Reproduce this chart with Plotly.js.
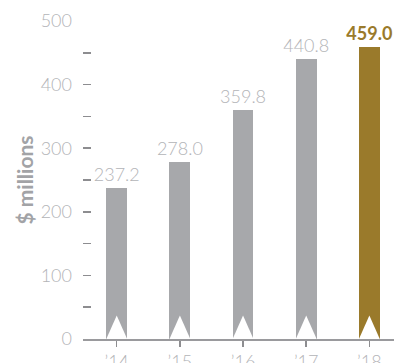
<!DOCTYPE html>
<html>
<head>
<meta charset="utf-8">
<script src="https://cdn.plot.ly/plotly-3.0.1.min.js"></script>
<style>html,body{margin:0;padding:0;background:#fff;}#chart{width:394px;height:363px;}</style>
</head>
<body>
<div id="chart"></div>
<script>
const categories = ["\u201914", "\u201915", "\u201916", "\u201917", "\u201918"];
const values = [237.2, 278.0, 359.8, 440.8, 459.0];
const valueLabels = ["237.2", "278.0", "359.8", "440.8", "459.0"];
const yTickVals = [0, 50, 100, 150, 200, 250, 300, 350, 400, 450, 500];
const yTickText = ["0", "", "100", "", "200", "", "300", "", "400", "", "500"];

const GRAY = "#a7a8ab";
const GOLD = "#9a7a2b";
const LABEL = "#b3b4b7";
const barWidth = 0.33;
const notchHeight = 37;

const colors = values.map((v, i) => i === values.length - 1 ? GOLD : GRAY);
const textColors = values.map((v, i) => i === values.length - 1 ? GOLD : LABEL);
const textWeights = values.map((v, i) => i === values.length - 1 ? 700 : 300);

const xIdx = categories.map((c, i) => i);

const bars = {
  type: "bar",
  x: xIdx,
  y: values,
  width: barWidth,
  marker: {color: colors, line: {width: 0}},
  text: valueLabels,
  textposition: "outside",
  constraintext: "none",
  textfont: {color: textColors, size: 18, family: "Lato, sans-serif", weight: textWeights},
  cliponaxis: false,
  hoverinfo: "skip"
};

const shapes = xIdx.map(i => ({
  type: "path",
  xref: "x", yref: "y",
  path: `M ${i - barWidth / 2} 0 L ${i} ${notchHeight} L ${i + barWidth / 2} 0 Z`,
  fillcolor: "#ffffff",
  line: {width: 0},
  layer: "above"
}));

const layout = {
  width: 394, height: 363,
  margin: {l: 83, r: 0, t: 21, b: 24},
  paper_bgcolor: "#fff",
  plot_bgcolor: "#fff",
  showlegend: false,
  font: {family: "Lato, sans-serif", color: LABEL},
  xaxis: {
    range: [-0.534, 4.39],
    tickvals: xIdx,
    ticktext: categories,
    showgrid: false,
    zeroline: false,
    showline: true,
    linecolor: "#9a9a9d",
    linewidth: 1.5,
    ticks: "outside",
    ticklen: 6,
    tickwidth: 1.5,
    tickcolor: "#8d8d90",
    tickfont: {size: 18, color: LABEL, family: "Lato, sans-serif", weight: 300},
    fixedrange: true
  },
  yaxis: {
    range: [0, 500],
    tickvals: yTickVals,
    ticktext: yTickText,
    showgrid: false,
    zeroline: false,
    showline: false,
    ticks: "inside",
    ticklen: 8,
    tickwidth: 1.5,
    tickcolor: "#8d8d90",
    ticklabelstandoff: 10,
    tickfont: {size: 18, color: LABEL, family: "Lato, sans-serif", weight: 300},
    title: {text: "<b>$ millions</b>", font: {size: 21, color: "#a2a3a6", family: "Lato, sans-serif"}, standoff: 1},
    fixedrange: true
  },
  shapes: shapes,
  bargap: 0
};

Plotly.newPlot("chart", [bars], layout, {displayModeBar: false, staticPlot: true});
</script>
</body>
</html>
